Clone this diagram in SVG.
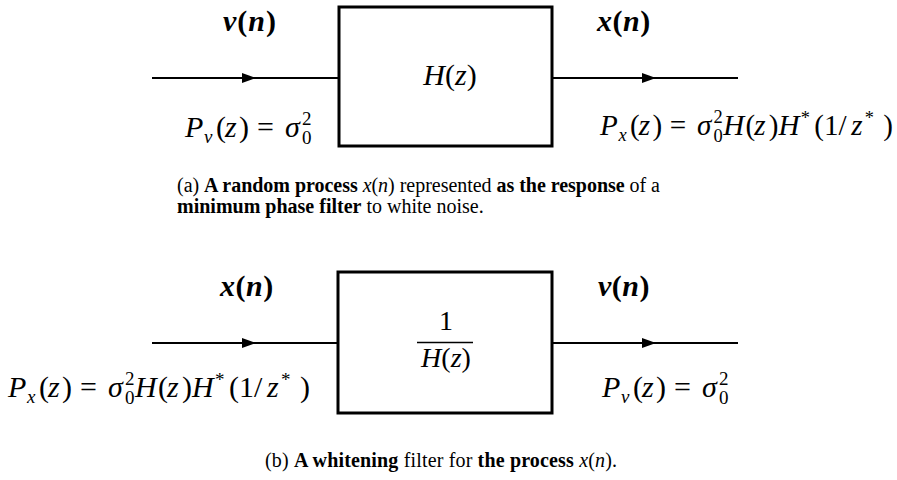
<svg xmlns="http://www.w3.org/2000/svg" width="897" height="480" viewBox="0 0 897 480">
<style>
text{font-family:"Liberation Serif","Times New Roman",serif;fill:#000}
.m{font-size:30px}
.i{font-style:italic}
.b{font-weight:bold}
.s{font-size:19px}
.cap{font-size:20px}
.box{fill:#fff;stroke:#000;stroke-width:3}
.wire{stroke:#000;stroke-width:2;fill:none}
.head{fill:#000}
</style>
<rect width="897" height="480" fill="#fff"/>
<g id="connectors">
<line class="wire" x1="152" y1="78" x2="339" y2="78"/>
<polygon class="head" points="242,73 256,78 242,83"/>
<line class="wire" x1="552" y1="78" x2="738" y2="78"/>
<polygon class="head" points="642,73 656,78 642,83"/>
<line class="wire" x1="152" y1="343" x2="339" y2="343"/>
<polygon class="head" points="242,338 256,343 242,348"/>
<line class="wire" x1="552" y1="343" x2="738" y2="343"/>
<polygon class="head" points="642,338 656,343 642,348"/>
</g>
<g id="filterH">
<rect class="box" x="339" y="7" width="213" height="139"/>
<text class="m" x="450" y="85" text-anchor="middle"><tspan class="i">H</tspan>(<tspan class="i">z</tspan>)</text>
</g>
<g id="labelsA">
<text class="m b" x="223" y="31" letter-spacing="1"><tspan class="i">v</tspan>(<tspan class="i">n</tspan>)</text>
<text class="m b" x="597" y="31" letter-spacing="0.5"><tspan class="i">x</tspan>(<tspan class="i">n</tspan>)</text>
<text class="m" transform="translate(185,137)"><tspan class="i" x="0" y="0">P</tspan><tspan class="i s" x="19" y="6">v</tspan><tspan x="31" y="0">(</tspan><tspan class="i" x="40">z</tspan><tspan x="54">)</tspan><tspan x="72">=</tspan><tspan class="i" x="100">σ</tspan><tspan class="s" x="117" y="-12">2</tspan><tspan class="s" x="117" y="7">0</tspan></text>
<text class="m" transform="translate(600,135) scale(0.97)"><tspan class="i" x="0" y="0">P</tspan><tspan class="i s" x="19" y="6">x</tspan><tspan x="31" y="0">(</tspan><tspan class="i" x="40">z</tspan><tspan x="54">)</tspan><tspan x="72">=</tspan><tspan class="i" x="100">σ</tspan><tspan class="s" x="117" y="-12">2</tspan><tspan class="s" x="117" y="7">0</tspan><tspan class="i" x="127" y="0">H</tspan><tspan x="150">(</tspan><tspan class="i" x="159">z</tspan><tspan x="174">)</tspan><tspan class="i" x="184">H</tspan><tspan class="s" x="207" y="-11">*</tspan><tspan x="221" y="0">(</tspan><tspan x="231">1</tspan><tspan x="246">/</tspan><tspan class="i" x="259">z</tspan><tspan class="s" x="273" y="-11">*</tspan><tspan x="292" y="0">)</tspan></text>
<text class="cap" x="177" y="192" textLength="483" lengthAdjust="spacing">(a) <tspan class="b">A random process</tspan> <tspan class="i">x</tspan>(<tspan class="i">n</tspan>) represented <tspan class="b">as the response</tspan> of a</text>
<text class="cap" x="177" y="213"><tspan class="b">minimum phase filter</tspan> to white noise.</text>
</g>
<g id="filterInv">
<rect class="box" x="338" y="272" width="214" height="141"/>
<text class="m" x="446" y="330" text-anchor="middle" style="font-size:28px">1</text>
<line x1="417" y1="342.5" x2="473" y2="342.5" stroke="#000" stroke-width="1.5"/>
<text class="m" x="446" y="367" text-anchor="middle" style="font-size:28px"><tspan class="i">H</tspan>(<tspan class="i">z</tspan>)</text>
</g>
<g id="labelsB">
<text class="m b" x="220" y="296" letter-spacing="0.5"><tspan class="i">x</tspan>(<tspan class="i">n</tspan>)</text>
<text class="m b" x="598" y="296" letter-spacing="0.5"><tspan class="i">v</tspan>(<tspan class="i">n</tspan>)</text>
<text class="m" transform="translate(8,397)"><tspan class="i" x="0" y="0">P</tspan><tspan class="i s" x="19" y="6">x</tspan><tspan x="31" y="0">(</tspan><tspan class="i" x="40">z</tspan><tspan x="54">)</tspan><tspan x="72">=</tspan><tspan class="i" x="100">σ</tspan><tspan class="s" x="117" y="-12">2</tspan><tspan class="s" x="117" y="7">0</tspan><tspan class="i" x="127" y="0">H</tspan><tspan x="150">(</tspan><tspan class="i" x="159">z</tspan><tspan x="174">)</tspan><tspan class="i" x="184">H</tspan><tspan class="s" x="207" y="-11">*</tspan><tspan x="221" y="0">(</tspan><tspan x="231">1</tspan><tspan x="246">/</tspan><tspan class="i" x="259">z</tspan><tspan class="s" x="273" y="-11">*</tspan><tspan x="292" y="0">)</tspan></text>
<text class="m" transform="translate(602,397)"><tspan class="i" x="0" y="0">P</tspan><tspan class="i s" x="19" y="6">v</tspan><tspan x="31" y="0">(</tspan><tspan class="i" x="40">z</tspan><tspan x="54">)</tspan><tspan x="72">=</tspan><tspan class="i" x="100">σ</tspan><tspan class="s" x="117" y="-12">2</tspan><tspan class="s" x="117" y="7">0</tspan></text>
<text class="cap" x="265" y="467" textLength="352" lengthAdjust="spacing">(b) <tspan class="b">A whitening</tspan> filter for <tspan class="b">the process</tspan> <tspan class="i">x</tspan>(<tspan class="i">n</tspan>).</text>
</g>
</svg>
